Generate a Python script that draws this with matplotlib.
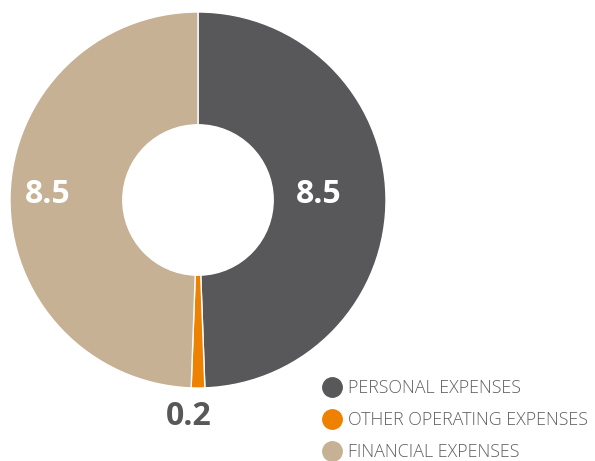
import matplotlib.pyplot as plt
from matplotlib.lines import Line2D

plt.rcParams['font.family'] = ['Open Sans', 'DejaVu Sans']

# data
categories = ["PERSONAL EXPENSES", "OTHER OPERATING EXPENSES", "FINANCIAL EXPENSES"]
values = [8.5, 0.2, 8.5]
value_labels = ["8.5", "0.2", "8.5"]
colors = ["#58585a", "#ee8100", "#c6b194"]

fig = plt.figure(figsize=(5.95, 4.61), dpi=100)
ax = fig.add_axes([10 / 595, 73 / 461, 376 / 595, 376 / 461])

wedges, _ = ax.pie(
    values,
    colors=colors,
    startangle=90,
    counterclock=False,
    radius=1.0,
    wedgeprops=dict(width=0.6, edgecolor="white", linewidth=1.0),
)
ax.set_xlim(-1, 1)
ax.set_ylim(-1, 1)
ax.set_aspect("equal")
ax.axis("off")

# value labels
label_pos = [(0.64, 0.03), (-0.05, -1.15), (-0.8, 0.03)]
label_col = ["white", "#58585a", "white"]
for (x, y), txt, c in zip(label_pos, value_labels, label_col):
    ax.text(x, y, txt, ha="center", va="center", fontsize=23,
            fontweight="bold", color=c, clip_on=False)

# legend
handles = [Line2D([], [], marker="o", linestyle="none", markersize=14,
                  markerfacecolor=c, markeredgecolor=c) for c in colors]
fig.legend(handles, categories, loc="upper left",
           bbox_to_anchor=(312 / 595, 1 - 370 / 461),
           frameon=False, labelcolor="#606060",
           prop=dict(family=["Open Sans", "DejaVu Sans"], size=12.9, weight="light"),
           handletextpad=0.32, labelspacing=0.78, borderpad=0,
           handlelength=1.2)

fig.savefig("out.png", dpi=100)
